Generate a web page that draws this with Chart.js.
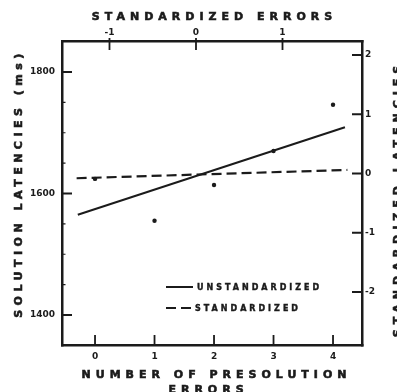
<!DOCTYPE html>
<html>
<head>
<meta charset="utf-8">
<script src="https://cdn.jsdelivr.net/npm/chart.js@4/dist/chart.umd.min.js"></script>
<style>
  html, body { margin: 0; padding: 0; background: #ffffff; }
  #wrap { width: 397px; height: 392px; }
</style>
</head>
<body>
<div id="wrap"><canvas id="c" width="397" height="392"></canvas></div>
<script>
// ---- data ----
const errors = [0, 1, 2, 3, 4];
const latencies = [1624, 1555, 1614, 1670, 1746];
const unstdLineX = [-0.29, 4.20];
const unstdLineY = [1565, 1709];
const stdLineX = [-1.38, 1.75];
const stdLineY = [-0.08, 0.06];

const xTicks = [0, 1, 2, 3, 4];
const xTickLabels = ['0', '1', '2', '3', '4'];
const yTicks = [1400, 1600, 1800];
const yTickLabels = ['1400', '1600', '1800'];
const yMinorTicks = [1450, 1500, 1550, 1650, 1700, 1750];
const x2Ticks = [-1, 0, 1];
const x2TickLabels = ['-1', '0', '1'];
const y2Ticks = [-2, -1, 0, 1, 2];
const y2TickLabels = ['-2', '-1', '0', '1', '2'];

const titleTop = 'STANDARDIZED ERRORS';
const titleLeft = 'SOLUTION LATENCIES (ms)';
const titleBottom = ['NUMBER OF PRESOLUTION', 'ERRORS'];
const titleRight = 'STANDARDIZED LATENCIES';
const seriesNames = ['UNSTANDARDIZED', 'STANDARDIZED'];

// ---- style ----
const INK = '#1b1b1b';
const FONT = '"DejaVu Sans", "Liberation Sans", sans-serif';
const tickFont = { family: FONT, size: 9, weight: 'bold' };

function setTicks(list) {
  return function (scale) { scale.ticks = list.map(v => ({ value: v })); };
}
function labelFrom(values, labels) {
  return function (value) { const i = values.indexOf(value); return i >= 0 ? labels[i] : ''; };
}
const noGrid = { display: false, drawTicks: false, drawOnChartArea: false, lineWidth: 2.5 };
const border = { display: true, width: 2.5, color: INK };

const tickMarks = {
  id: 'tickMarks',
  afterDraw(chart) {
    const { ctx } = chart;
    const sx = chart.scales.x, sy = chart.scales.y, sx2 = chart.scales.x2, sy2 = chart.scales.y2;
    ctx.save();
    ctx.strokeStyle = INK;
    ctx.lineWidth = 1.8;
    ctx.beginPath();
    xTicks.forEach(v => { const p = sx.getPixelForValue(v); ctx.moveTo(p, sx.top); ctx.lineTo(p, sx.top - 10); });
    x2Ticks.forEach(v => { const p = sx2.getPixelForValue(v); ctx.moveTo(p, sx2.bottom - 3); ctx.lineTo(p, sx2.bottom + 9); });
    yTicks.forEach(v => { const p = sy.getPixelForValue(v); ctx.moveTo(sy.right - 1, p); ctx.lineTo(sy.right + 10, p); });
    y2Ticks.forEach(v => { const p = sy2.getPixelForValue(v); ctx.moveTo(sy2.left + 1, p); ctx.lineTo(sy2.left - 10, p); });
    ctx.stroke();
    ctx.lineWidth = 1.2;
    ctx.beginPath();
    yMinorTicks.forEach(v => { const p = sy.getPixelForValue(v); ctx.moveTo(sy.right, p); ctx.lineTo(sy.right + 3.5, p); });
    ctx.stroke();
    ctx.restore();
  }
};

function heavyText(ctx, text, x, y) {
  ctx.fillText(text, x, y);
  ctx.strokeText(text, x, y);
}

const axisTitles = {
  id: 'axisTitles',
  afterDraw(chart) {
    const { ctx, chartArea } = chart;
    ctx.save();
    ctx.fillStyle = INK;
    ctx.strokeStyle = INK;
    ctx.lineWidth = 0.6;
    ctx.font = 'bold 11px ' + FONT;
    ctx.textAlign = 'center';
    ctx.textBaseline = 'alphabetic';
    ctx.letterSpacing = '5px';
    const cx = (chartArea.left + chartArea.right) / 2;
    heavyText(ctx, titleTop, cx + 2.5, 19.5);
    heavyText(ctx, titleBottom[0], cx + 4.5, 378);
    heavyText(ctx, titleBottom[1], cx - 3.5, 393);
    // right title (reads bottom to top)
    ctx.save();
    ctx.translate(396.5, 199);
    ctx.rotate(-Math.PI / 2);
    heavyText(ctx, titleRight, 0, 4);
    ctx.restore();
    // left title
    ctx.letterSpacing = '4.5px';
    ctx.save();
    ctx.translate(17.5, 183.5);
    ctx.rotate(-Math.PI / 2);
    heavyText(ctx, titleLeft, 0, 4);
    ctx.restore();
    ctx.restore();
  }
};

const innerLegend = {
  id: 'innerLegend',
  afterDraw(chart) {
    const { ctx } = chart;
    const items = [chart.data.datasets[1], chart.data.datasets[2]];
    const rows = [287, 308];
    ctx.save();
    ctx.font = 'bold 8px ' + FONT;
    ctx.fillStyle = INK;
    ctx.textAlign = 'left';
    ctx.textBaseline = 'alphabetic';
    ctx.letterSpacing = '3px';
    items.forEach((ds, i) => {
      const y = rows[i];
      ctx.strokeStyle = INK;
      ctx.lineWidth = ds.borderWidth;
      ctx.setLineDash(ds.borderDash || []);
      ctx.beginPath();
      ctx.moveTo(166, y);
      ctx.lineTo(193, y);
      ctx.stroke();
      ctx.setLineDash([]);
      ctx.lineWidth = 0.4;
      heavyText(ctx, ds.label, i === 0 ? 197 : 195, y + 3);
    });
    ctx.restore();
  }
};

new Chart(document.getElementById('c'), {
  type: 'scatter',
  data: {
    datasets: [
      {
        label: 'Means',
        data: errors.map((x, i) => ({ x: x, y: latencies[i] })),
        xAxisID: 'x', yAxisID: 'y',
        pointRadius: 2.2, pointBackgroundColor: INK, pointBorderColor: INK, pointBorderWidth: 0,
        showLine: false
      },
      {
        label: seriesNames[0],
        data: unstdLineX.map((x, i) => ({ x: x, y: unstdLineY[i] })),
        xAxisID: 'x', yAxisID: 'y',
        showLine: true, pointRadius: 0, borderColor: INK, borderWidth: 2
      },
      {
        label: seriesNames[1],
        data: stdLineX.map((x, i) => ({ x: x, y: stdLineY[i] })),
        xAxisID: 'x2', yAxisID: 'y2',
        showLine: true, pointRadius: 0, borderColor: INK, borderWidth: 2.2, borderDash: [10, 5]
      }
    ]
  },
  options: {
    responsive: false,
    animation: false,
    devicePixelRatio: 1,
    layout: { padding: 0 },
    plugins: { legend: { display: false }, tooltip: { enabled: false } },
    scales: {
      x: {
        type: 'linear', position: 'bottom', min: -0.555, max: 4.487,
        afterBuildTicks: setTicks(xTicks),
        afterFit: s => { s.height = 47; },
        ticks: { callback: labelFrom(xTicks, xTickLabels), padding: 6, font: tickFont, color: INK, maxRotation: 0, autoSkip: false },
        grid: noGrid, border: border
      },
      x2: {
        type: 'linear', position: 'top', min: -1.549, max: 1.919,
        afterBuildTicks: setTicks(x2Ticks),
        afterFit: s => { s.height = 41; },
        ticks: { callback: labelFrom(x2Ticks, x2TickLabels), padding: 3, font: tickFont, color: INK, maxRotation: 0, autoSkip: false },
        grid: noGrid, border: border
      },
      y: {
        type: 'linear', position: 'left', min: 1350.6, max: 1851,
        afterBuildTicks: setTicks(yTicks),
        afterFit: s => { s.width = 62; },
        ticks: { callback: labelFrom(yTicks, yTickLabels), padding: 7, font: tickFont, color: INK, autoSkip: false },
        grid: noGrid, border: border
      },
      y2: {
        type: 'linear', position: 'right', min: -2.894, max: 2.236,
        afterBuildTicks: setTicks(y2Ticks),
        afterFit: s => { s.width = 35; },
        ticks: { callback: labelFrom(y2Ticks, y2TickLabels), padding: 3, font: tickFont, color: INK, autoSkip: false },
        grid: noGrid, border: border
      }
    }
  },
  plugins: [tickMarks, axisTitles, innerLegend]
});
</script>
</body>
</html>
